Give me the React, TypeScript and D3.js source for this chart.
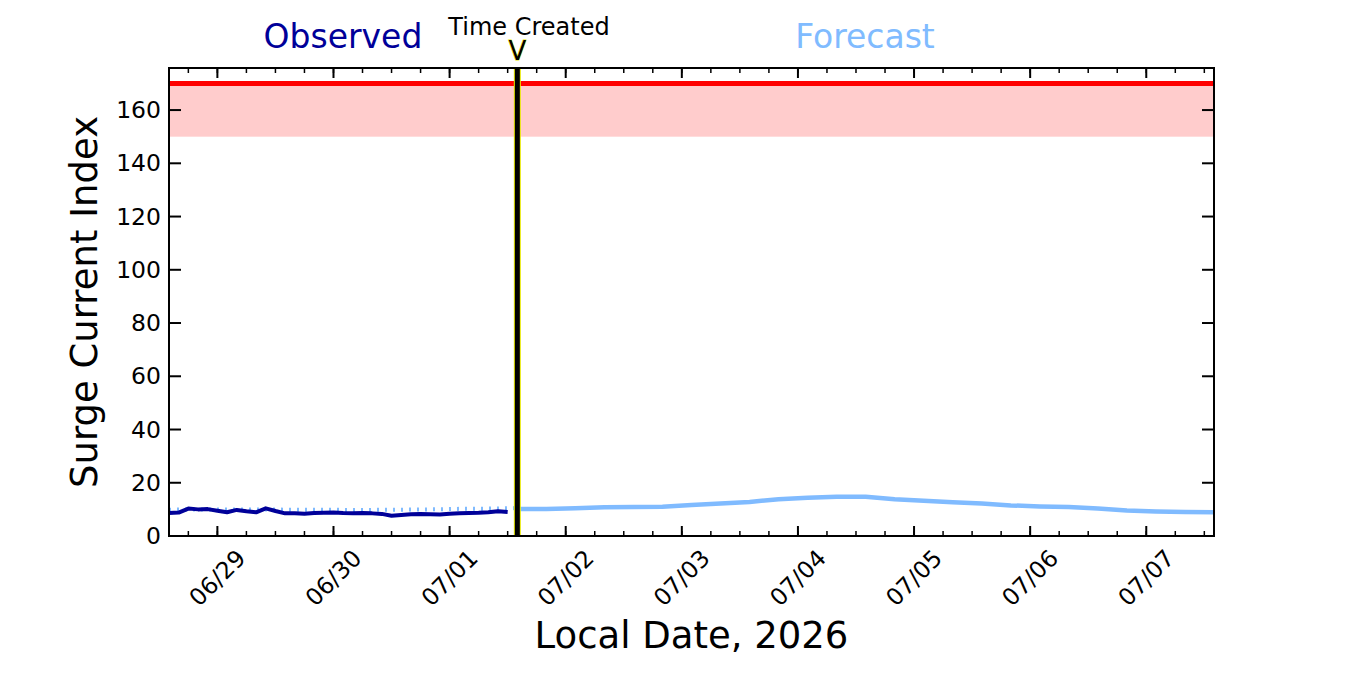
import { useEffect, useRef } from 'react';
import * as d3 from 'd3';

// observed surge current index, every 2 hours from 06/28 14:00
const observedStart = Date.UTC(2026, 5, 28, 14);
const observedValues = [
  8.6, 8.8, 10.3, 10.0, 10.1, 9.5, 8.9, 9.8, 9.3, 8.9, 10.4, 9.4, 8.5, 8.5, 8.4, 8.6, 8.7, 8.8,
  8.6, 8.5, 8.6, 8.5, 8.3, 7.6, 7.9, 8.2, 8.3, 8.2, 8.1, 8.4, 8.5, 8.6, 8.7, 8.9, 9.3, 9.0,
];
// earlier forecast run (dotted), every 6 hours from 06/28 14:00
const pastForecastValues = [9.9, 10.0, 10.0, 10.0, 9.9, 9.9, 9.8, 9.8, 9.9, 10.0, 10.2, 10.3, 10.5];
// forecast, every 6 hours from time created
const createdTime = Date.UTC(2026, 6, 1, 14);
const forecastValues = [
  10.1, 10.1, 10.4, 10.8, 10.9, 11.0, 11.6, 12.2, 12.8, 13.8, 14.4, 14.7, 14.7, 13.8, 13.2, 12.7,
  12.2, 11.5, 11.1, 10.9, 10.3, 9.6, 9.2, 9.0, 8.9,
];
const yTicks = [0, 20, 40, 60, 80, 100, 120, 140, 160];
const thresholdLow = 150;
const thresholdHigh = 170;

const HOUR = 3600 * 1000;
const FONT = 'DejaVu Sans, sans-serif';

export default function App() {
  const ref = useRef<SVGSVGElement>(null);

  useEffect(() => {
    const svg = d3.select(ref.current);
    svg.selectAll('*').remove();

    const m = { left: 169, right: 1214, top: 68, bottom: 536 };
    const x = d3.scaleUtc().domain([Date.UTC(2026, 5, 28, 14), Date.UTC(2026, 6, 7, 14)]).range([m.left, m.right]);
    const y = d3.scaleLinear().domain([0, 175.8]).range([m.bottom, m.top]);

    svg.append('defs').append('clipPath').attr('id', 'plot')
      .append('rect').attr('x', m.left).attr('y', m.top).attr('width', m.right - m.left).attr('height', m.bottom - m.top);

    const g = svg.append('g').attr('clip-path', 'url(#plot)');

    g.append('rect')
      .attr('x', m.left).attr('width', m.right - m.left)
      .attr('y', y(thresholdHigh)).attr('height', y(thresholdLow) - y(thresholdHigh))
      .attr('fill', '#ffcccc');
    g.append('line')
      .attr('x1', m.left).attr('x2', m.right).attr('y1', y(thresholdHigh)).attr('y2', y(thresholdHigh))
      .attr('stroke', '#ff0000').attr('stroke-width', 5);

    const line = d3.line<[number, number]>().x((d) => x(d[0])).y((d) => y(d[1]));

    const past = pastForecastValues.map((v, i) => [observedStart + i * 6 * HOUR, v] as [number, number]);
    g.append('path').attr('d', line(past)).attr('fill', 'none')
      .attr('stroke', '#80bbff').attr('stroke-width', 4).attr('stroke-dasharray', '2,6');

    const obs = observedValues.map((v, i) => [observedStart + i * 2 * HOUR, v] as [number, number]);
    g.append('path').attr('d', line(obs)).attr('fill', 'none')
      .attr('stroke', '#000099').attr('stroke-width', 4).attr('stroke-linejoin', 'round');

    const fc = forecastValues.map((v, i) => [createdTime + i * 6 * HOUR, v] as [number, number]);
    g.append('path').attr('d', line(fc)).attr('fill', 'none')
      .attr('stroke', '#80bbff').attr('stroke-width', 4.5).attr('stroke-linejoin', 'round');

    // time created marker
    const xc = x(createdTime);
    svg.append('line').attr('x1', xc).attr('x2', xc).attr('y1', m.top).attr('y2', m.bottom)
      .attr('stroke', '#e8e800').attr('stroke-width', 7);
    svg.append('line').attr('x1', xc).attr('x2', xc).attr('y1', m.top).attr('y2', m.bottom)
      .attr('stroke', '#000').attr('stroke-width', 5);

    // frame
    svg.append('rect').attr('x', m.left).attr('y', m.top)
      .attr('width', m.right - m.left).attr('height', m.bottom - m.top)
      .attr('fill', 'none').attr('stroke', '#000').attr('stroke-width', 2);

    const ticks = svg.append('g').attr('stroke', '#000');
    const majors = x.ticks(d3.utcDay.every(1)!);
    const minors = x.ticks(d3.utcHour.every(6)!);
    minors.forEach((d) => {
      const px = x(d);
      ticks.append('line').attr('x1', px).attr('x2', px).attr('y1', m.bottom).attr('y2', m.bottom - 5).attr('stroke-width', 1.5);
      ticks.append('line').attr('x1', px).attr('x2', px).attr('y1', m.top).attr('y2', m.top + 5).attr('stroke-width', 1.5);
    });
    majors.forEach((d) => {
      const px = x(d);
      ticks.append('line').attr('x1', px).attr('x2', px).attr('y1', m.bottom).attr('y2', m.bottom - 10).attr('stroke-width', 2);
      ticks.append('line').attr('x1', px).attr('x2', px).attr('y1', m.top).attr('y2', m.top + 10).attr('stroke-width', 2);
    });
    yTicks.forEach((v) => {
      const py = y(v);
      ticks.append('line').attr('x1', m.left).attr('x2', m.left + 12).attr('y1', py).attr('y2', py).attr('stroke-width', 2);
      ticks.append('line').attr('x1', m.right).attr('x2', m.right - 12).attr('y1', py).attr('y2', py).attr('stroke-width', 2);
    });

    const fmt = d3.utcFormat('%m/%d');
    svg.append('g').selectAll('text').data(majors).join('text')
      .attr('transform', (d) => `translate(${x(d)},578) rotate(-45)`)
      .attr('text-anchor', 'middle').attr('dominant-baseline', 'central')
      .attr('font-family', FONT).attr('font-size', 23.5).text((d) => fmt(d));

    svg.append('g').selectAll('text').data(yTicks).join('text')
      .attr('x', 161).attr('y', (d) => y(d))
      .attr('text-anchor', 'end').attr('dominant-baseline', 'central')
      .attr('font-family', FONT).attr('font-size', 23.5).text((d) => d);

    svg.append('text').attr('x', (m.left + m.right) / 2).attr('y', 648)
      .attr('text-anchor', 'middle').attr('font-family', FONT).attr('font-size', 37).text('Local Date, 2026');
    svg.append('text').attr('transform', `translate(97,${(m.top + m.bottom) / 2}) rotate(-90)`)
      .attr('text-anchor', 'middle').attr('font-family', FONT).attr('font-size', 37).text('Surge Current Index');

    svg.append('text').attr('x', 343).attr('y', 48).attr('text-anchor', 'middle')
      .attr('font-family', FONT).attr('font-size', 33).attr('fill', '#000099').text('Observed');
    svg.append('text').attr('x', 865).attr('y', 48).attr('text-anchor', 'middle')
      .attr('font-family', FONT).attr('font-size', 33).attr('fill', '#80bbff').text('Forecast');
    svg.append('text').attr('x', 529).attr('y', 35).attr('text-anchor', 'middle')
      .attr('font-family', FONT).attr('font-size', 24).text('Time Created');
    svg.append('text').attr('x', xc).attr('y', 60).attr('text-anchor', 'middle')
      .attr('font-family', FONT).attr('font-size', 26).attr('fill', '#000')
      .attr('stroke', '#e8e800').attr('stroke-width', 1).attr('paint-order', 'stroke').text('V');
  }, []);

  return (
    <svg ref={ref} width={1350} height={675} style={{ position: 'absolute', left: 0, top: 0, background: '#fff' }} />
  );
}
